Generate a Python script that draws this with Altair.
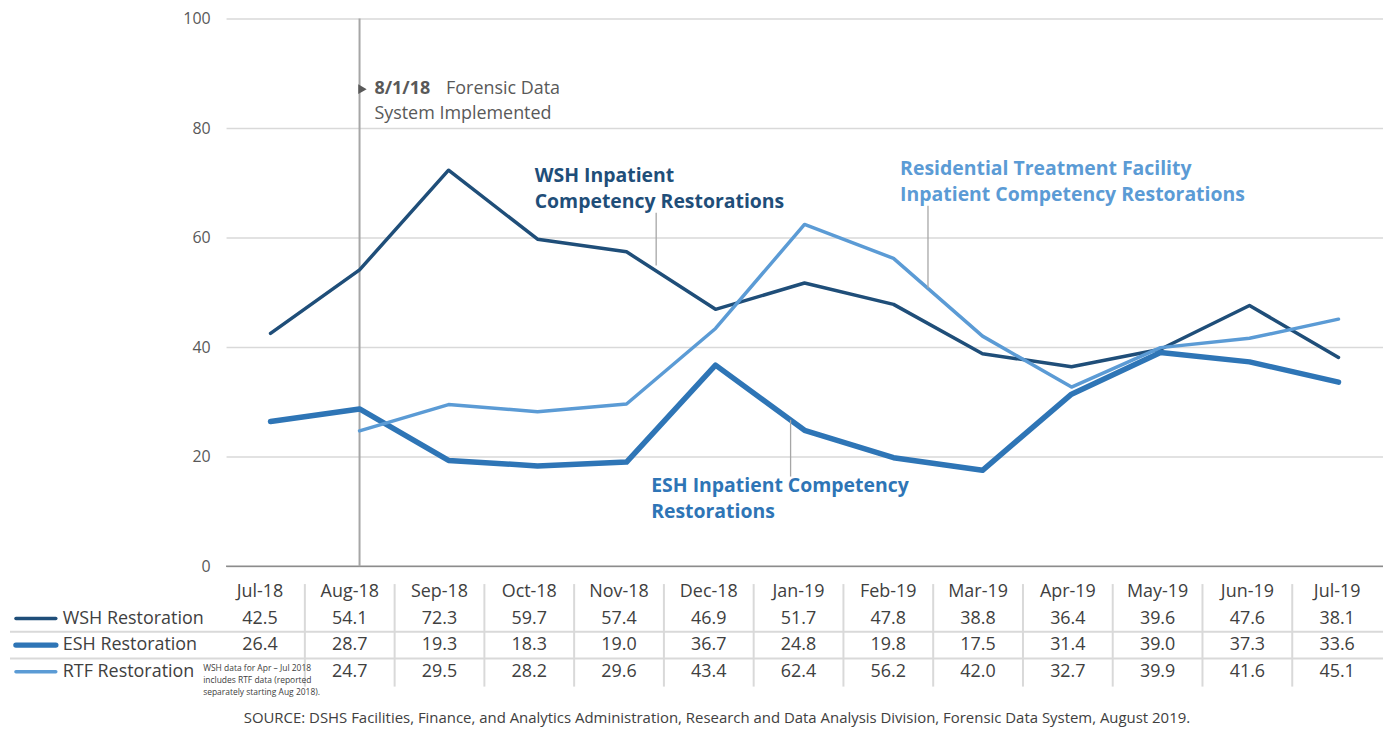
import altair as alt
import pandas as pd

# ---------------- data ----------------
months = ["Jul-18", "Aug-18", "Sep-18", "Oct-18", "Nov-18", "Dec-18", "Jan-19",
          "Feb-19", "Mar-19", "Apr-19", "May-19", "Jun-19", "Jul-19"]
wsh = [42.5, 54.1, 72.3, 59.7, 57.4, 46.9, 51.7, 47.8, 38.8, 36.4, 39.6, 47.6, 38.1]
esh = [26.4, 28.7, 19.3, 18.3, 19.0, 36.7, 24.8, 19.8, 17.5, 31.4, 39.0, 37.3, 33.6]
rtf = [None, 24.7, 29.5, 28.2, 29.6, 43.4, 62.4, 56.2, 42.0, 32.7, 39.9, 41.6, 45.1]

series_names = ["WSH Restoration", "ESH Restoration", "RTF Restoration"]
series_values = [wsh, esh, rtf]
series_colors = ["#1F4E79", "#2E75B6", "#5B9BD5"]
series_widths = [3.5, 5.5, 3.5]
y_ticks = [0, 20, 40, 60, 80, 100]

source_text = ("SOURCE: DSHS Facilities, Finance, and Analytics Administration, Research and "
               "Data Analysis Division, Forensic Data System, August 2019.")
footnote_lines = ["WSH data for Apr \u2013 Jul 2018", "includes  RTF data (reported",
                  "separately  starting  Aug 2018)."]

FONT = "Open Sans"
TXT = "#404040"
GRAY = "#595959"

# ---------------- plot part ----------------
x_plot = alt.X("idx:Q", scale=alt.Scale(domain=[-0.5, len(months) - 0.5], nice=False, zero=False), axis=None)
y_plot = alt.Y("value:Q", scale=alt.Scale(domain=[0, 100], nice=False, zero=False),
               axis=alt.Axis(values=y_ticks, grid=True, gridColor="#D9D9D9", gridWidth=1.5,
                             domain=False, ticks=False, labelPadding=16, labelFontSize=16,
                             labelColor=GRAY, labelFont=FONT, title=None))

line_layers = []
for name, vals, col, w in zip(series_names, series_values, series_colors, series_widths):
    df = pd.DataFrame({"idx": list(range(len(months))), "month": months, "value": vals}).dropna()
    line_layers.append(
        alt.Chart(df).mark_line(color=col, strokeWidth=w, strokeCap="round", strokeJoin="round")
        .encode(x=x_plot, y=y_plot)
    )

baseline = alt.Chart(pd.DataFrame({"value": [0]})).mark_rule(color="#8C8C8C", strokeWidth=1.5).encode(y=y_plot)

impl = alt.Chart(pd.DataFrame({"idx": [months.index("Aug-18")], "value": [0], "v2": [100]})).mark_rule(
    color="#A6A6A6", strokeWidth=2).encode(x=x_plot, y=y_plot, y2="v2:Q")

one = pd.DataFrame({"a": [0]})


def txt(text, x, y, color, size, bold=False, align="left"):
    return alt.Chart(one).mark_text(
        text=text, align=align, baseline="middle", font=FONT, fontSize=size,
        fontWeight="bold" if bold else "normal", color=color, lineBreak="\n", lineHeight=26
    ).encode(x=alt.value(x), y=alt.value(y))


def leader(x, y1, y2):
    return alt.Chart(one).mark_rule(color="#A6A6A6", strokeWidth=1.3).encode(
        x=alt.value(x), y=alt.value(y1), y2=alt.value(y2))


triangle = alt.Chart(one).mark_point(shape="triangle-right", filled=True, color=GRAY, size=95, opacity=1).encode(
    x=alt.value(137), y=alt.value(71))

annotations = [
    triangle,
    txt("8/1/18", 149, 71, GRAY, 18, bold=True),
    txt("Forensic Data", 221, 71, GRAY, 18),
    txt("System Implemented", 149, 96, GRAY, 18),
    txt("WSH Inpatient\nCompetency Restorations", 310, 158, "#1F4E79", 19.5, bold=True),
    txt("Residential Treatment Facility\nInpatient Competency Restorations", 677, 151, "#5B9BD5", 19.5, bold=True),
    txt("ESH Inpatient Competency\nRestorations", 427, 470, "#2E75B6", 19.5, bold=True),
    leader(432, 195, 248),
    leader(705, 188, 271),
    leader(567, 403, 460),
]

plot_group = alt.layer(baseline, impl, *line_layers, *annotations)

# ---------------- table part ----------------
x_tab_scale = alt.Scale(domain=[-0.5, len(months) - 0.5], range=[-11, 1161], nice=False, zero=False)
y_tab_scale = alt.Scale(domain=[0, 3], range=[576, 656], nice=False, zero=False)

rows = []
for i, m in enumerate(months):
    rows.append({"idx": i, "row": 0, "label": m})
for r, vals in enumerate(series_values, start=1):
    for i, v in enumerate(vals):
        if v is not None:
            rows.append({"idx": i, "row": r, "label": f"{v:.1f}"})
df_tab = pd.DataFrame(rows)

table_text = alt.Chart(df_tab).mark_text(font=FONT, fontSize=18, color=TXT, align="center", baseline="middle").encode(
    x=alt.X("idx:Q", scale=x_tab_scale, axis=None),
    y=alt.Y("row:Q", scale=y_tab_scale, axis=None),
    text="label:N")

df_vsep = pd.DataFrame({"sep": [i + 0.5 for i in range(len(months) - 1)]})
vsep = alt.Chart(df_vsep).mark_rule(color="#D9D9D9", strokeWidth=2).encode(
    x=alt.X("sep:Q", scale=x_tab_scale, axis=None), y=alt.value(568), y2=alt.value(671))

df_hsep = pd.DataFrame({"row": [1.5, 2.5]})
hsep = alt.Chart(df_hsep).mark_rule(color="#D9D9D9", strokeWidth=2).encode(
    y=alt.Y("row:Q", scale=y_tab_scale, axis=None), x=alt.value(-217), x2=alt.value(1170))

df_leg = pd.DataFrame({"row": [1, 2, 3], "name": series_names})
leg_text = alt.Chart(df_leg).mark_text(font=FONT, fontSize=18, color=TXT, align="left", baseline="middle").encode(
    x=alt.value(-164), y=alt.Y("row:Q", scale=y_tab_scale, axis=None), text="name:N")

leg_lines = []
for r, (col, w) in enumerate(zip(series_colors, series_widths), start=1):
    leg_lines.append(
        alt.Chart(pd.DataFrame({"row": [r]})).mark_rule(color=col, strokeWidth=w, strokeCap="round").encode(
            x=alt.value(-211), x2=alt.value(-171), y=alt.Y("row:Q", scale=y_tab_scale, axis=None))
    )

footnote = alt.Chart(one).mark_text(
    text=footnote_lines, align="left", baseline="middle", font=FONT, fontSize=8.5,
    color=TXT, lineHeight=12).encode(x=alt.value(-23), y=alt.value(652))

source = alt.Chart(one).mark_text(
    text=source_text, align="center", baseline="middle", font=FONT, fontSize=15, color=TXT
).encode(x=alt.value(493), y=alt.value(703))

table_group = alt.layer(vsep, hsep, table_text, leg_text, *leg_lines, footnote, source)

chart = alt.layer(plot_group, table_group).resolve_scale(x="independent", y="independent").properties(
    width=1162, height=550,
    autosize=alt.AutoSizeParams(type="none"),
    padding={"left": 219, "top": 9, "right": 0, "bottom": 160},
).configure(font=FONT).configure_view(strokeWidth=0, stroke="transparent")

chart.save("out.html", embed_options={"renderer": "svg", "actions": False})
